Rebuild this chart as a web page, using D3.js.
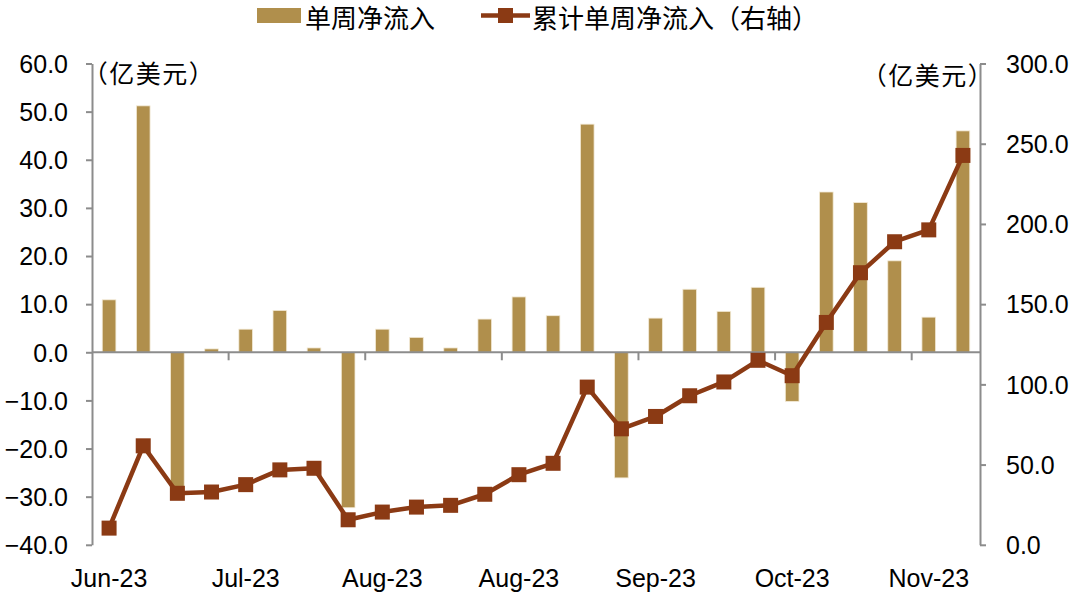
<!DOCTYPE html>
<html>
<head>
<meta charset="utf-8">
<script src="https://cdn.jsdelivr.net/npm/d3@7"></script>
<style>
  html, body { margin: 0; padding: 0; background: #ffffff; }
  svg { display: block; }
  .num { font-family: "Liberation Sans", Arial, sans-serif; font-size: 25px; fill: #000; }
  .cjk { font-family: "Noto Sans CJK SC", sans-serif; fill: #000; }
</style>
</head>
<body>
<svg id="chart" width="1080" height="597"></svg>
<script>
// ---- data ----
const weeks = ["2023-06-07","2023-06-14","2023-06-21","2023-06-28","2023-07-05","2023-07-12","2023-07-19","2023-07-26",
  "2023-08-02","2023-08-09","2023-08-16","2023-08-23","2023-08-30","2023-09-06","2023-09-13","2023-09-20",
  "2023-09-27","2023-10-04","2023-10-11","2023-10-18","2023-10-25","2023-11-01","2023-11-08","2023-11-15",
  "2023-11-22","2023-11-29"];
const weeklyFlow = [10.9, 51.2, -29.3, 0.7, 4.8, 8.7, 0.9, -32.3, 4.8, 3.1, 0.9, 6.9, 11.5, 7.6, 47.4, -26.1,
  7.1, 13.1, 8.5, 13.5, -10.2, 33.3, 31.1, 19.0, 7.3, 46.0];
const cumulativeFlow = [10.4, 61.7, 32.1, 32.9, 37.5, 46.7, 47.7, 15.6, 20.4, 23.5, 24.6, 31.5, 43.7, 50.8, 98.3, 72.3,
  80.0, 92.9, 101.5, 115.0, 105.4, 138.6, 169.6, 188.9, 196.3, 242.7];
const leftTicks = [-40, -30, -20, -10, 0, 10, 20, 30, 40, 50, 60];
const rightTicks = [0, 50, 100, 150, 200, 250, 300];
const seriesNames = ["单周净流入", "累计单周净流入（右轴）"];
const unitLabel = "（亿美元）";
const labelEvery = 4;

// ---- layout ----
const barColor = "#b08f4c";
const lineColor = "#8b3a14";
const axisColor = "#8c8c8c";
const plot = { left: 92, right: 980, top: 63.5, bottom: 544.8 };

const svg = d3.select("#chart");
const idx = d3.range(weeks.length);
const parse = d3.timeParse("%Y-%m-%d");
const fmtMonth = d3.timeFormat("%b-%y");

const x = d3.scaleBand().domain(idx).range([plot.left, plot.right]).paddingInner(0.6).paddingOuter(0.3);
const yL = d3.scaleLinear().domain([-40, 60]).range([plot.bottom, plot.top]);
const yR = d3.scaleLinear().domain([0, 300]).range([plot.bottom, plot.top]);
const cx = i => x(i) + x.bandwidth() / 2;

// bars
svg.append("g").selectAll("rect").data(weeklyFlow).join("rect")
  .attr("x", (d, i) => x(i))
  .attr("width", x.bandwidth())
  .attr("y", d => yL(Math.max(0, d)))
  .attr("height", d => Math.abs(yL(d) - yL(0)))
  .attr("fill", barColor)
  .attr("stroke", "#f3ead6")
  .attr("stroke-width", 0.8);

// zero line (category axis)
const y0 = yL(0);
svg.append("line").attr("x1", plot.left).attr("x2", plot.right).attr("y1", y0).attr("y2", y0)
  .attr("stroke", axisColor).attr("stroke-width", 2);
// category tick marks between groups
const step = x.step();
svg.append("g").selectAll("line").data(idx.filter(i => i > 0 && i % labelEvery === 0)).join("line")
  .attr("x1", i => x(i) - step * 0.3).attr("x2", i => x(i) - step * 0.3)
  .attr("y1", y0).attr("y2", y0 + 8)
  .attr("stroke", axisColor).attr("stroke-width", 2);
// category labels
svg.append("g").selectAll("text").data(idx.filter(i => i % labelEvery === 0)).join("text")
  .attr("class", "num")
  .attr("x", i => cx(i)).attr("y", 587)
  .attr("text-anchor", "middle")
  .text(i => fmtMonth(parse(weeks[i])));

// left axis
const gL = svg.append("g").attr("transform", `translate(${plot.left},0)`)
  .call(d3.axisLeft(yL).tickValues(leftTicks).tickFormat(d3.format(".1f")).tickSize(6).tickSizeOuter(0).tickPadding(18));
// right axis
const gR = svg.append("g").attr("transform", `translate(${plot.right},0)`)
  .call(d3.axisRight(yR).tickValues(rightTicks).tickFormat(d3.format(".1f")).tickSize(6).tickSizeOuter(0).tickPadding(20));
[gL, gR].forEach(g => {
  g.select(".domain").attr("stroke", axisColor).attr("stroke-width", 2);
  g.selectAll(".tick line").attr("stroke", axisColor).attr("stroke-width", 2);
  g.selectAll(".tick text").attr("class", "num").attr("font-size", null).attr("font-family", null)
    .attr("dy", "0.35em");
});

// line
const line = d3.line().x((d, i) => cx(i)).y(d => yR(d));
svg.append("path").datum(cumulativeFlow).attr("d", line)
  .attr("fill", "none").attr("stroke", lineColor).attr("stroke-width", 4.5).attr("stroke-linejoin", "round");
svg.append("g").selectAll("rect").data(cumulativeFlow).join("rect")
  .attr("x", (d, i) => cx(i) - 7.5).attr("y", d => yR(d) - 7.5)
  .attr("width", 15).attr("height", 15).attr("fill", lineColor);

// unit labels
svg.append("text").attr("class", "cjk").attr("font-size", 25).attr("letter-spacing", 1.5)
  .attr("x", 149).attr("y", 72).attr("dominant-baseline", "central").attr("text-anchor", "middle").text(unitLabel);
svg.append("text").attr("class", "cjk").attr("font-size", 25).attr("letter-spacing", 1.5)
  .attr("x", 928).attr("y", 74).attr("dominant-baseline", "central").attr("text-anchor", "middle").text(unitLabel);

// legend
const lg = svg.append("g");
lg.append("rect").attr("x", 257).attr("y", 8).attr("width", 44).attr("height", 15).attr("fill", barColor);
lg.append("text").attr("class", "cjk").attr("font-size", 26).attr("x", 305).attr("y", 16)
  .attr("dominant-baseline", "central").text(seriesNames[0]);
lg.append("line").attr("x1", 481).attr("x2", 530).attr("y1", 15.5).attr("y2", 15.5)
  .attr("stroke", lineColor).attr("stroke-width", 4.5);
lg.append("rect").attr("x", 498).attr("y", 8).attr("width", 15).attr("height", 15).attr("fill", lineColor);
lg.append("text").attr("class", "cjk").attr("font-size", 26).attr("x", 532).attr("y", 16)
  .attr("dominant-baseline", "central").text(seriesNames[1]);
</script>
</body>
</html>
